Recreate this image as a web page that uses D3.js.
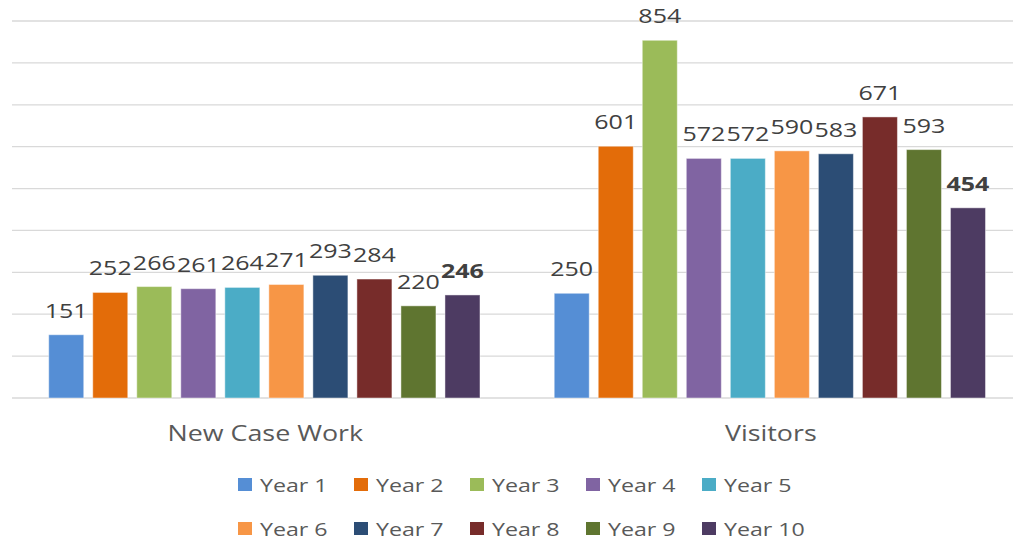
<!DOCTYPE html>
<html>
<head>
<meta charset="utf-8">
<script src="https://cdn.jsdelivr.net/npm/d3@7"></script>
<style>
	body { margin: 0; background: #fff; }
	svg text { font-family: "Open Sans", sans-serif; }
</style>
</head>
<body>
<div id="chart"></div>
<script>
const categories = ["New Case Work", "Visitors"];
const seriesNames = ["Year 1", "Year 2", "Year 3", "Year 4", "Year 5", "Year 6", "Year 7", "Year 8", "Year 9", "Year 10"];
const newCaseWork = [151, 252, 266, 261, 264, 271, 293, 284, 220, 246];
const visitors = [250, 601, 854, 572, 572, 590, 583, 671, 593, 454];
const colors = ["#558ed5", "#e36c09", "#9bbb59", "#8064a2", "#4bacc6", "#f79646", "#2c4d75", "#772c2a", "#5f7530", "#4d3b62"];
const yTicks = [0, 100, 200, 300, 400, 500, 600, 700, 800, 900];

const values = [newCaseWork, visitors];

const width = 1013, height = 542;
const svg = d3.select("#chart")
	.append("svg")
	.attr("width", width)
	.attr("height", height);

// Scales
const x0 = d3.scaleBand()
	.domain(categories)
	.range([11.6, 1022.6]);

const x1 = d3.scaleBand()
	.domain(seriesNames)
	.range([0, x0.bandwidth()])
	.paddingInner(0.2045)
	.paddingOuter(0.843);

const y = d3.scaleLinear()
	.domain([0, 900])
	.range([398, 21]);

// Gridlines
svg.selectAll("line.grid")
	.data(yTicks)
	.enter()
	.append("line")
	.attr("class", "grid")
	.attr("x1", 12)
	.attr("x2", width)
	.attr("y1", d => y(d))
	.attr("y2", d => y(d))
	.attr("stroke", "#d9d9d9")
	.attr("stroke-width", 1.3);

// Bars
const groups = svg.selectAll("g.cat")
	.data(categories)
	.enter()
	.append("g")
	.attr("class", "cat")
	.attr("transform", d => `translate(${x0(d)},0)`);

groups.selectAll("rect")
	.data((d, ci) => seriesNames.map((s, i) => ({ series: s, i: i, value: values[ci][i] })))
	.enter()
	.append("rect")
	.attr("x", d => x1(d.series))
	.attr("y", d => y(d.value))
	.attr("width", x1.bandwidth())
	.attr("height", d => y(0) - y(d.value))
	.attr("fill", d => colors[d.i])
	.attr("stroke", "rgba(255,255,255,0.45)")
	.attr("stroke-width", 1);

// Data labels (stretched horizontally like the original)
groups.selectAll("g.label")
	.data((d, ci) => seriesNames.map((s, i) => ({ series: s, i: i, value: values[ci][i] })))
	.enter()
	.append("g")
	.attr("class", "label")
	.attr("transform", d => `translate(${x1(d.series) + x1.bandwidth() / 2},${y(d.value) - 17}) scale(1.25,1)`)
	.append("text")
	.attr("text-anchor", "middle")
	.attr("font-size", 20)
	.attr("font-weight", d => d.i === seriesNames.length - 1 ? "bold" : "normal")
	.attr("fill", "#404040")
	.text(d => d.value);

// Category labels
svg.selectAll("g.catlabel")
	.data(categories)
	.enter()
	.append("g")
	.attr("class", "catlabel")
	.attr("transform", d => `translate(${x0(d) + x0.bandwidth() / 2 + 1},441) scale(1.22,1)`)
	.append("text")
	.attr("text-anchor", "middle")
	.attr("font-size", 22)
	.attr("fill", "#595959")
	.text(d => d);

// Legend
const legend = svg.append("g").attr("class", "legend");
const item = legend.selectAll("g.item")
	.data(seriesNames)
	.enter()
	.append("g")
	.attr("class", "item")
	.attr("transform", (d, i) => `translate(${238 + (i % 5) * 116},${478 + Math.floor(i / 5) * 44})`);

item.append("rect")
	.attr("width", 14)
	.attr("height", 13)
	.attr("fill", (d, i) => colors[i]);

item.append("g")
	.attr("transform", "translate(22,13.5) scale(1.24,1)")
	.append("text")
	.attr("font-size", 18.7)
	.attr("fill", "#595959")
	.text(d => d);
</script>
</body>
</html>
